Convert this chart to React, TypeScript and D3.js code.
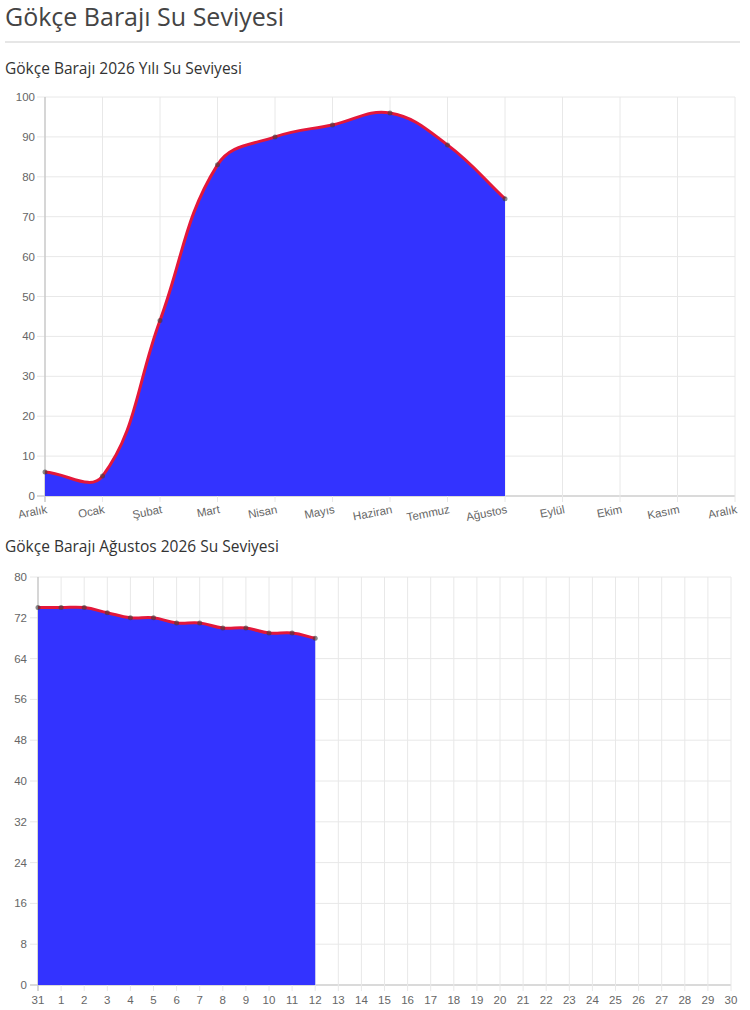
import React from "react";
import * as d3 from "d3";

// Yearly chart (month labels, first and last are both Aralık)
const months = ["Aralık", "Ocak", "Şubat", "Mart", "Nisan", "Mayıs", "Haziran", "Temmuz", "Ağustos", "Eylül", "Ekim", "Kasım", "Aralık"];
const yearLevels = [6, 5, 44, 83, 90, 93, 96, 88, 74.5];
const yearTicks = [0, 10, 20, 30, 40, 50, 60, 70, 80, 90, 100];

// August chart (day labels, starts on 31 of previous month)
const days = ["31", "1", "2", "3", "4", "5", "6", "7", "8", "9", "10", "11", "12", "13", "14", "15", "16", "17", "18", "19", "20", "21", "22", "23", "24", "25", "26", "27", "28", "29", "30"];
const augustLevels = [74, 74, 74, 73, 72, 72, 71, 71, 70, 70, 69, 69, 68];
const augustTicks = [0, 8, 16, 24, 32, 40, 48, 56, 64, 72, 80];

const TICK_FONT = "'Liberation Sans', Arial, sans-serif";
const HEAD_FONT = "'Open Sans', Lato, sans-serif";

type Pt = { x: number; y: number };

// Chart.js style bezier spline (tension 0.4), control points kept inside the plot area
function splinePath(pts: Pt[], area: { left: number; right: number; top: number; bottom: number }, t = 0.4) {
  const clampX = (v: number) => Math.max(area.left, Math.min(area.right, v));
  const clampY = (v: number) => Math.max(area.top, Math.min(area.bottom, v));
  const cps = pts.map((cur, i) => {
    const prev = pts[i - 1] || cur;
    const next = pts[i + 1] || cur;
    const d01 = Math.hypot(cur.x - prev.x, cur.y - prev.y);
    const d12 = Math.hypot(next.x - cur.x, next.y - cur.y);
    let s01 = d01 / (d01 + d12);
    let s12 = d12 / (d01 + d12);
    if (isNaN(s01)) s01 = 0;
    if (isNaN(s12)) s12 = 0;
    const fa = t * s01;
    const fb = t * s12;
    return {
      px: clampX(cur.x - fa * (next.x - prev.x)),
      py: clampY(cur.y - fa * (next.y - prev.y)),
      nx: clampX(cur.x + fb * (next.x - prev.x)),
      ny: clampY(cur.y + fb * (next.y - prev.y)),
    };
  });
  const p = d3.path();
  p.moveTo(pts[0].x, pts[0].y);
  for (let i = 1; i < pts.length; i++) {
    p.bezierCurveTo(cps[i - 1].nx, cps[i - 1].ny, cps[i].px, cps[i].py, pts[i].x, pts[i].y);
  }
  return p.toString();
}

type ChartProps = {
  labels: string[];
  values: number[];
  ticks: number[];
  left: number;
  right: number;
  top: number;
  bottom: number;
  labelGap: number;
  rotate: boolean;
  fontSize: number;
};

function LevelChart({ labels, values, ticks, left, right, top, bottom, labelGap, rotate, fontSize }: ChartProps) {
  const x = d3.scalePoint<number>().domain(labels.map((_, i) => i)).range([left, right]);
  const y = d3.scaleLinear().domain([0, ticks[ticks.length - 1]]).range([bottom, top]);
  const pts = values.map((v, i) => ({ x: x(i) as number, y: y(v) }));
  const line = splinePath(pts, { left, right, top, bottom });
  const area = `${line}L${pts[pts.length - 1].x},${y(0)}L${pts[0].x},${y(0)}Z`;

  return (
    <g>
      {/* horizontal grid + y tick marks */}
      {ticks.map(t => (
        <line key={"h" + t} x1={left - 8} x2={right} y1={y(t)} y2={y(t)}
          stroke={t === 0 ? "#b5b5b5" : "#e8e8e8"} strokeWidth={1} />
      ))}
      {/* vertical grid */}
      {labels.map((_, i) => (
        <line key={"v" + i} x1={x(i)} x2={x(i)} y1={top} y2={bottom + 6}
          stroke={i === 0 ? "#c8c8c8" : "#e8e8e8"} strokeWidth={i === 0 ? 1.5 : 1} />
      ))}
      {/* y tick labels */}
      {ticks.map(t => (
        <text key={"yt" + t} x={left - labelGap} y={y(t)} dy="0.35em" textAnchor="end"
          fontFamily={TICK_FONT} fontSize={fontSize} fill="#666">{t}</text>
      ))}
      {/* x tick labels */}
      {labels.map((l, i) =>
        rotate ? (
          <text key={"xt" + i} transform={`translate(${(x(i) as number) + 2},${bottom + 13}) rotate(-11)`}
            textAnchor="end" dy="0.35em" fontFamily={TICK_FONT} fontSize={fontSize} fill="#666">{l}</text>
        ) : (
          <text key={"xt" + i} x={x(i)} y={bottom + 19} textAnchor="middle"
            fontFamily={TICK_FONT} fontSize={fontSize} fill="#666">{l}</text>
        )
      )}
      <path d={area} fill="#3333ff" />
      <path d={line} fill="none" stroke="#e3173a" strokeWidth={3} />
      {pts.map((p, i) => (
        <circle key={"p" + i} cx={p.x} cy={p.y} r={2.5} fill="rgba(60,60,60,0.6)" />
      ))}
    </g>
  );
}

export default function App() {
  return (
    <div style={{ position: "absolute", left: 0, top: 0 }}>
      <svg width={750} height={1010} style={{ display: "block", background: "#fff" }}>
        <text x={5} y={26} fontFamily={HEAD_FONT} fontSize={25} fill="#444">Gökçe Barajı Su Seviyesi</text>
        <line x1={5} x2={740} y1={42} y2={42} stroke="#e6e6e6" strokeWidth={2} />
        <text x={5} y={74} fontFamily={HEAD_FONT} fontSize={15.5} fill="#333">Gökçe Barajı 2026 Yılı Su Seviyesi</text>
        <LevelChart labels={months} values={yearLevels} ticks={yearTicks}
          left={45} right={735} top={97} bottom={496} labelGap={10} rotate={true} fontSize={11.5} />
        <text x={5} y={552} fontFamily={HEAD_FONT} fontSize={15.5} fill="#333">Gökçe Barajı Ağustos 2026 Su Seviyesi</text>
        <LevelChart labels={days} values={augustLevels} ticks={augustTicks}
          left={38} right={731} top={577} bottom={985} labelGap={11} rotate={false} fontSize={11.5} />
      </svg>
    </div>
  );
}
